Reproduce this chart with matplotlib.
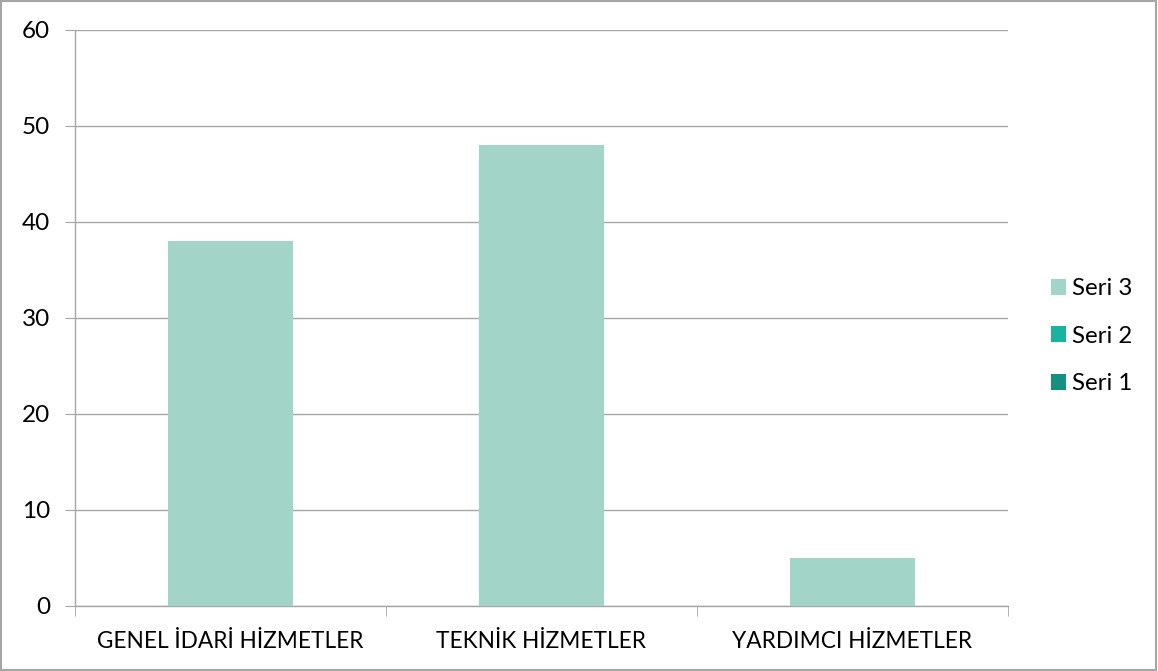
import matplotlib.pyplot as plt
from matplotlib.patches import Rectangle
import numpy as np

categories = ["GENEL İDARİ HİZMETLER", "TEKNİK HİZMETLER", "YARDIMCI HİZMETLER"]
seri1 = [0, 0, 0]
seri2 = [0, 0, 0]
seri3 = [38, 48, 5]
yticks = [0, 10, 20, 30, 40, 50, 60]

c1 = "#148f80"
c2 = "#1ab39f"
c3 = "#a2d4c8"
grid_col = "#a6a6a6"

plt.rcParams['font.family'] = ['Lato', 'DejaVu Sans']

fig = plt.figure(figsize=(11.58, 6.71), dpi=100)
ax = fig.add_axes([75/1158, 65/671, 933/1158, 576/671])

x = np.arange(len(categories))
w = 0.4
b1 = ax.bar(x, seri1, w, color=c1, label="Seri 1")
b2 = ax.bar(x, seri2, w, bottom=seri1, color=c2, label="Seri 2")
bottom3 = np.array(seri1) + np.array(seri2)
b3 = ax.bar(x, seri3, w, bottom=bottom3, color=c3, label="Seri 3", zorder=3)

ax.set_xlim(-0.5, 2.5)
ax.set_ylim(0, 60)
ax.set_yticks(yticks)
ax.tick_params(axis='y', length=7, color=grid_col, labelsize=17.5, pad=11)
ax.yaxis.grid(True, color=grid_col, linewidth=1)
ax.set_axisbelow(True)

ax.set_xticks(x)
ax.set_xticklabels(categories)
ax.tick_params(axis='x', length=0, labelsize=16.3, pad=18)
ax.set_xticks([-0.5, 0.5, 1.5, 2.5], minor=True)
ax.tick_params(axis='x', which='minor', length=7, color=grid_col)

for s in ['top', 'right']:
    ax.spines[s].set_visible(False)
for s in ['left', 'bottom']:
    ax.spines[s].set_color(grid_col)
    ax.spines[s].set_linewidth(1)

fig.legend([b3, b2, b1], ["Seri 3", "Seri 2", "Seri 1"], loc='center left',
           bbox_to_anchor=(1041/1158, 0.499), frameon=False, fontsize=17.3,
           borderaxespad=0, handlelength=0.65, handleheight=0.65,
           handletextpad=0.25, labelspacing=1.1)

fig.add_artist(Rectangle((0.001, 0.001), 0.997, 0.997, transform=fig.transFigure,
                         fill=False, edgecolor=grid_col, linewidth=1.5))

fig.savefig("out.png", dpi=100)
